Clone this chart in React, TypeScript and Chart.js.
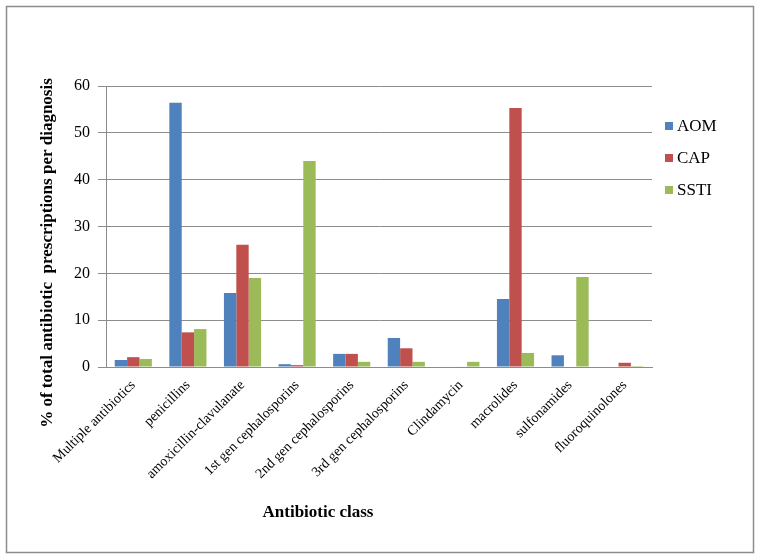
import React, { useEffect, useRef } from "react";
import { Chart, registerables } from "chart.js";

Chart.register(...registerables);

const categories = [
  "Multiple antibiotics",
  "penicillins",
  "amoxicillin-clavulanate",
  "1st gen cephalosporins",
  "2nd gen cephalosporins",
  "3rd gen cephalosporins",
  "Clindamycin",
  "macrolides",
  "sulfonamides",
  "fluoroquinolones",
];
const seriesNames = ["AOM", "CAP", "SSTI"];
const aomValues = [1.5, 56.4, 15.8, 0.6, 2.8, 6.2, 0.1, 14.5, 2.5, 0];
const capValues = [2.1, 7.4, 26.1, 0.4, 2.8, 4.0, 0.1, 55.3, 0, 0.9];
const sstiValues = [1.7, 8.1, 19.0, 44.0, 1.1, 1.1, 1.1, 3.0, 19.2, 0.2];
const colors = ["#4F81BD", "#C0504D", "#9BBB59"];
const yTitle = "% of total antibiotic  prescriptions per diagnosis";
const xTitle = "Antibiotic class";

const FONT = "'Liberation Serif', 'Times New Roman', serif";

const decorPlugin = {
  id: "decor",
  afterDraw(chart: any) {
    const ctx = chart.ctx as CanvasRenderingContext2D;
    ctx.save();
    // outer border
    ctx.strokeStyle = "#8c8c8c";
    ctx.lineWidth = 1.5;
    ctx.strokeRect(6.5, 6.5, 747, 546);
    // y title
    ctx.fillStyle = "#000";
    ctx.font = `bold 17px ${FONT}`;
    ctx.textAlign = "center";
    ctx.textBaseline = "middle";
    ctx.save();
    ctx.translate(48, 253);
    ctx.rotate(-Math.PI / 2);
    ctx.fillText(yTitle, 0, 0);
    ctx.restore();
    // x title
    ctx.font = `bold 17px ${FONT}`;
    ctx.fillText(xTitle, 318, 513);
    // legend
    ctx.font = `17px ${FONT}`;
    ctx.textAlign = "left";
    const ys = [126, 158, 190];
    seriesNames.forEach((n, i) => {
      ctx.fillStyle = colors[i];
      ctx.fillRect(665, ys[i] - 4, 8, 8);
      ctx.fillStyle = "#000";
      ctx.fillText(n, 677, ys[i] + 1);
    });
    ctx.restore();
  },
};

export default function App() {
  const ref = useRef<HTMLCanvasElement>(null);
  useEffect(() => {
    document.body.style.margin = "0";
    const c = new Chart(ref.current!, {
      type: "bar",
      data: {
        labels: categories,
        datasets: [aomValues, capValues, sstiValues].map((d, i) => ({
          label: seriesNames[i],
          data: d,
          backgroundColor: colors[i],
          borderWidth: 0,
          categoryPercentage: 0.68,
          barPercentage: 1.0,
        })),
      },
      options: {
        animation: false,
        responsive: false,
        layout: { padding: { left: 0, top: 86, right: 110, bottom: 0 } },
        plugins: { legend: { display: false }, tooltip: { enabled: false } },
        scales: {
          x: {
            grid: { display: false },
            border: { display: true, color: "#8c8c8c", width: 1 },
            ticks: {
              autoSkip: false,
              maxRotation: 45,
              minRotation: 45,
              color: "#000",
              padding: 2,
              font: { family: FONT, size: 14 },
            },
            afterFit(scale: any) {
              scale.height = 193;
            },
          },
          y: {
            min: 0,
            max: 60,
            ticks: {
              stepSize: 10,
              color: "#000",
              padding: 8,
              font: { family: FONT, size: 16 },
            },
            grid: { color: "#8c8c8c", tickLength: 8, lineWidth: 1 },
            border: { display: true, color: "#8c8c8c", width: 1 },
            afterFit(scale: any) {
              scale.width = 106;
            },
          },
        },
      },
      plugins: [decorPlugin],
    });
    return () => c.destroy();
  }, []);
  return (
    <div style={{ position: "absolute", left: 0, top: 0, width: 762, height: 560 }}>
      <canvas ref={ref} width={762} height={560} style={{ width: 762, height: 560 }} />
    </div>
  );
}
